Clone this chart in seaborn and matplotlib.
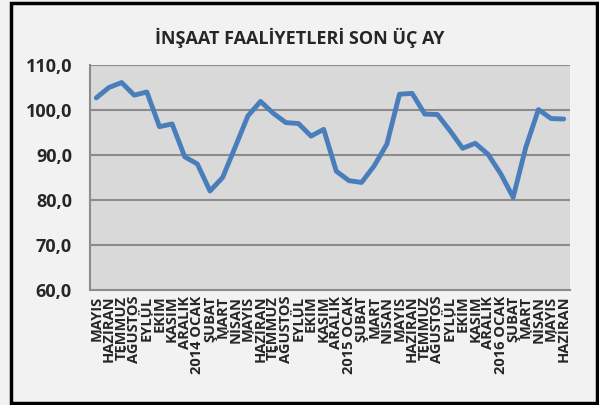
import matplotlib
matplotlib.use('Agg')

import numpy as np
import pandas as pd
import matplotlib.pyplot as plt
import seaborn as sns
from matplotlib.patches import Rectangle

months = ['MAYIS', 'HAZİRAN', 'TEMMUZ', 'AĞUSTOS', 'EYLÜL', 'EKİM', 'KASIM',
          'ARALIK', '2014 OCAK', 'ŞUBAT', 'MART', 'NİSAN', 'MAYIS', 'HAZİRAN',
          'TEMMUZ', 'AĞUSTOS', 'EYLÜL', 'EKİM', 'KASIM', 'ARALIK',
          '2015 OCAK', 'ŞUBAT', 'MART', 'NİSAN', 'MAYIS', 'HAZİRAN', 'TEMMUZ',
          'AĞUSTOS', 'EYLÜL', 'EKİM', 'KASIM', 'ARALIK', '2016 OCAK', 'ŞUBAT',
          'MART', 'NİSAN', 'MAYIS', 'HAZİRAN']
values = [102.7, 105.0, 106.1, 103.3, 104.0, 96.3, 96.9, 89.6, 88.0, 82.0,
          85.0, 91.8, 98.7, 101.9, 99.3, 97.2, 97.0, 94.2, 95.7, 86.4,
          84.3, 83.9, 87.6, 92.4, 103.5, 103.7, 99.1, 99.0, 95.4, 91.5,
          92.6, 90.2, 85.9, 80.6, 91.7, 100.1, 98.1, 98.0]
y_ticks = [60, 70, 80, 90, 100, 110]

df = pd.DataFrame({'idx': np.arange(len(values)), 'value': values})

sns.set_style('white')
plt.rcParams['font.family'] = ['Open Sans', 'DejaVu Sans']

fig = plt.figure(figsize=(5.99, 4.05), dpi=100, facecolor='#f2f2f2')
ax = fig.add_axes([90 / 599, 1 - 290 / 405, 480 / 599, 225 / 405])
ax.set_facecolor('#d9d9d9')

for t in y_ticks[1:]:
    ax.axhline(t, color='#8c8c8c', lw=1.5, zorder=1)

sns.lineplot(data=df, x='idx', y='value', ax=ax, color='#4a7ebb',
             lw=3.5, zorder=3)

ax.set_xlim(-0.5, len(values) - 0.5)
ax.set_ylim(60, 110)
ax.set_yticks(y_ticks)
ax.set_yticklabels([f'{t},0' for t in y_ticks], fontsize=13,
                   fontweight='bold')
ax.set_xticks(np.arange(len(values)))
ax.set_xticklabels(months, rotation=90, fontsize=10.5, fontweight='bold',
                   va='top', ha='center')
ax.set_xticks(np.arange(len(values) + 1) - 0.5, minor=True)
ax.tick_params(axis='x', which='major', length=0, pad=4)
ax.tick_params(axis='x', which='minor', length=4, color='#8c8c8c',
               direction='out', width=1.2)
ax.tick_params(axis='y', length=5, color='#8c8c8c', width=1.2, pad=8)
ax.set_xlabel('')
ax.set_ylabel('')

for side in ['top', 'right']:
    ax.spines[side].set_visible(False)
for side in ['left', 'bottom']:
    ax.spines[side].set_color('#8c8c8c')
    ax.spines[side].set_linewidth(1.5)

fig.text(0.5, 1 - 38 / 405, 'İNŞAAT FAALİYETLERİ SON ÜÇ AY', ha='center',
         va='center', fontsize=13, fontweight='bold')

fig.patches.append(Rectangle((11 / 599, 2 / 405), 586 / 599, 400 / 405,
                             transform=fig.transFigure, fill=False,
                             edgecolor='black', lw=2.5))

fig.savefig('out.png', dpi=100, facecolor=fig.get_facecolor())
